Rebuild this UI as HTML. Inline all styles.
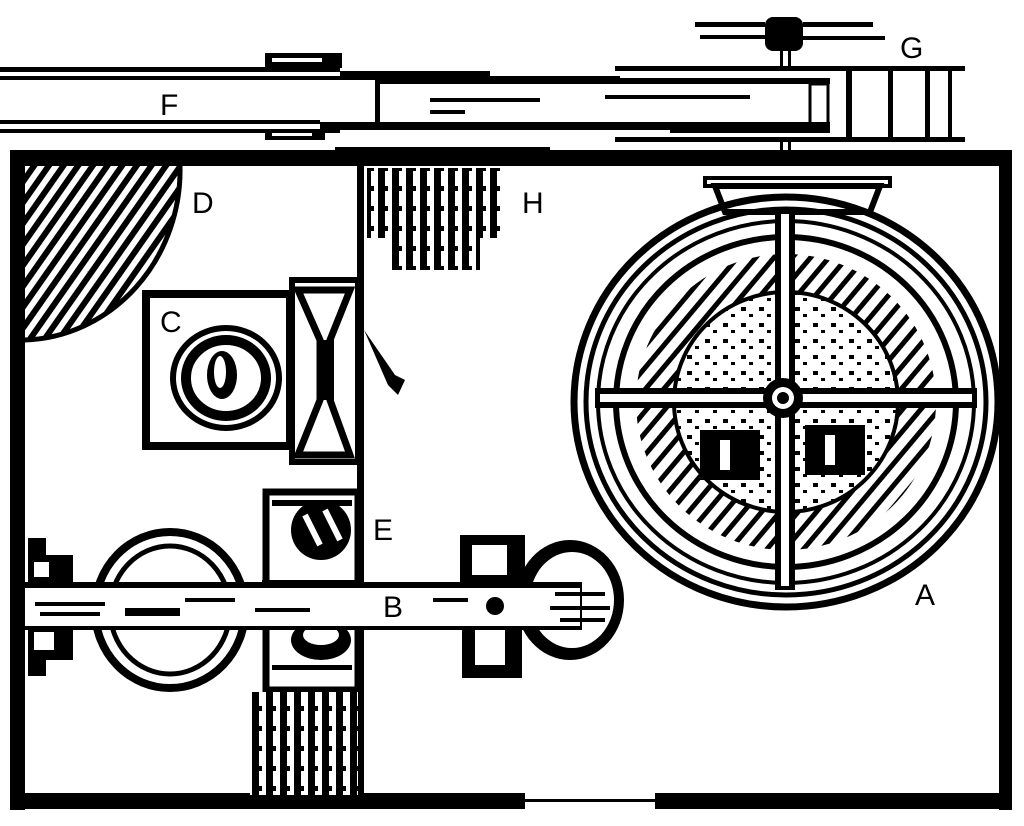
<!DOCTYPE html>
<html><head><meta charset="utf-8"><style>
html,body{margin:0;padding:0;background:#fff;}
svg{display:block}
text{font-family:"Liberation Sans",sans-serif;font-size:30px;fill:#000}
</style></head><body>
<svg width="1024" height="826" viewBox="0 0 1024 826" xmlns="http://www.w3.org/2000/svg">
<defs>
<pattern id="hatch" width="12" height="12" patternUnits="userSpaceOnUse" patternTransform="rotate(35)">
<rect width="12" height="12" fill="#fff"/><rect width="6" height="12" fill="#000"/>
</pattern>
<pattern id="hatch2" width="14" height="14" patternUnits="userSpaceOnUse" patternTransform="rotate(40)">
<rect width="14" height="14" fill="#fff"/><rect width="5" height="14" fill="#000"/>
</pattern>
<pattern id="vhatch" width="14" height="20" patternUnits="userSpaceOnUse">
<rect width="14" height="20" fill="#fff"/><rect width="7" height="20" fill="#000"/><rect x="7" y="6" width="3" height="5" fill="#000"/>
</pattern>
<pattern id="dots" width="18" height="16" patternUnits="userSpaceOnUse">
<rect width="18" height="16" fill="#fff"/><rect x="3" y="3" width="5" height="4" fill="#000"/><rect x="11" y="10" width="4" height="3" fill="#000"/>
</pattern>
</defs>

<!-- top beam F -->
<rect x="0" y="67" width="340" height="5" fill="#000"/>
<rect x="0" y="76" width="340" height="4" fill="#000"/>
<rect x="0" y="120" width="320" height="4" fill="#000"/>
<rect x="0" y="129" width="340" height="4" fill="#000"/>
<rect x="265" y="53" width="77" height="15" fill="#000"/>
<rect x="272" y="58" width="50" height="4" fill="#fff"/>
<rect x="265" y="130" width="60" height="10" fill="#000"/>
<rect x="272" y="133" width="40" height="3" fill="#fff"/>
<rect x="340" y="71" width="150" height="9" fill="#000"/>
<rect x="490" y="76" width="130" height="8" fill="#000"/>
<rect x="375" y="78" width="5" height="50" fill="#000"/>
<rect x="320" y="122" width="510" height="8" fill="#000"/>
<rect x="375" y="78" width="455" height="6" fill="#000"/>
<rect x="810" y="84" width="18" height="44" fill="none" stroke="#000" stroke-width="3"/>
<rect x="430" y="98" width="110" height="4" fill="#000"/>
<rect x="430" y="110" width="35" height="4" fill="#000"/>
<rect x="605" y="95" width="145" height="4" fill="#000"/>
<!-- right housing -->
<rect x="615" y="66" width="350" height="5" fill="#000"/>
<rect x="615" y="137" width="350" height="5" fill="#000"/>
<rect x="846" y="71" width="6" height="66" fill="#000"/>
<rect x="888" y="71" width="5" height="66" fill="#000"/>
<rect x="925" y="71" width="5" height="66" fill="#000"/>
<rect x="948" y="71" width="4" height="66" fill="#000"/>
<rect x="670" y="79" width="160" height="4" fill="#000"/>
<rect x="670" y="129" width="160" height="4" fill="#000"/>
<!-- G -->
<rect x="765" y="17" width="38" height="34" rx="8" fill="#000"/>
<rect x="695" y="22" width="70" height="5" fill="#000"/>
<rect x="700" y="35" width="65" height="4" fill="#000"/>
<rect x="803" y="22" width="70" height="5" fill="#000"/>
<rect x="803" y="36" width="82" height="4" fill="#000"/>
<rect x="780" y="50" width="3" height="17" fill="#000"/><rect x="788" y="50" width="3" height="17" fill="#000"/>
<rect x="780" y="142" width="3" height="10" fill="#000"/><rect x="788" y="142" width="3" height="10" fill="#000"/>
<text x="900" y="58">G</text>
<text x="160" y="115">F</text>
<rect x="335" y="147" width="215" height="6" fill="#000"/>

<!-- frame -->
<rect x="10" y="150" width="1002" height="16" fill="#000"/>
<rect x="10" y="150" width="15" height="660" fill="#000"/>
<rect x="999" y="150" width="13" height="660" fill="#000"/>
<rect x="10" y="793" width="515" height="16" fill="#000"/>
<rect x="655" y="793" width="357" height="16" fill="#000"/>
<rect x="525" y="799" width="130" height="3" fill="#000"/>
<rect x="357" y="160" width="7" height="640" fill="#000"/>

<!-- D -->
<path d="M25 166 L180 166 A160 170 0 0 1 25 340 Z" fill="url(#hatch)"/>
<path d="M180 166 A160 170 0 0 1 25 340" fill="none" stroke="#000" stroke-width="5"/>
<text x="192" y="213">D</text>

<!-- H -->
<rect x="367" y="168" width="135" height="70" fill="url(#vhatch)"/>
<rect x="390" y="235" width="90" height="35" fill="url(#vhatch)"/>
<text x="522" y="213">H</text>

<!-- C -->
<rect x="146" y="294" width="144" height="152" fill="none" stroke="#000" stroke-width="8"/>
<text x="160" y="332">C</text>
<ellipse cx="226" cy="378" rx="53" ry="50" fill="none" stroke="#000" stroke-width="6"/>
<ellipse cx="226" cy="378" rx="40" ry="38" fill="none" stroke="#000" stroke-width="10"/>
<ellipse cx="222" cy="375" rx="15" ry="24" fill="#000"/>
<ellipse cx="220" cy="372" rx="6" ry="16" fill="#fff"/>
<!-- hourglass -->
<rect x="292" y="280" width="66" height="182" fill="none" stroke="#000" stroke-width="6"/>
<path d="M298 290 L350 290 L330 340 L330 400 L350 455 L298 455 L320 400 L320 340 Z" fill="none" stroke="#000" stroke-width="7"/>
<rect x="318" y="340" width="16" height="60" fill="#000"/>
<path d="M364 330 L395 375 L405 380 L398 395 L388 385 Z" fill="#000"/>

<!-- wheel A -->
<rect x="705" y="178" width="185" height="8" fill="none" stroke="#000" stroke-width="4"/>
<path d="M715 186 L880 186 L870 212 L725 212 Z" fill="none" stroke="#000" stroke-width="6"/>
<ellipse cx="786" cy="402" rx="212" ry="205" fill="none" stroke="#000" stroke-width="7"/>
<ellipse cx="786" cy="402" rx="200" ry="193" fill="none" stroke="#000" stroke-width="5"/>
<ellipse cx="786" cy="402" rx="188" ry="181" fill="none" stroke="#000" stroke-width="4"/>
<ellipse cx="786" cy="402" rx="170" ry="165" fill="none" stroke="#000" stroke-width="6"/>
<ellipse cx="786" cy="402" rx="150" ry="148" fill="url(#hatch2)"/>
<ellipse cx="786" cy="402" rx="112" ry="110" fill="url(#dots)" stroke="#000" stroke-width="4"/>
<rect x="700" y="430" width="60" height="50" fill="#000"/>
<rect x="805" y="425" width="60" height="50" fill="#000"/>
<rect x="720" y="440" width="10" height="30" fill="#fff"/>
<rect x="825" y="435" width="10" height="30" fill="#fff"/>
<!-- spokes -->
<rect x="775" y="210" width="20" height="380" fill="#000"/>
<rect x="781" y="214" width="8" height="372" fill="#fff"/>
<rect x="595" y="388" width="382" height="20" fill="#000"/>
<rect x="600" y="394" width="372" height="8" fill="#fff"/>
<circle cx="783" cy="398" r="20" fill="#000"/>
<circle cx="783" cy="398" r="11" fill="#fff"/>
<circle cx="783" cy="398" r="6" fill="#000"/>
<text x="915" y="605">A</text>

<!-- left wheel -->
<ellipse cx="170" cy="610" rx="75" ry="78" fill="none" stroke="#000" stroke-width="8"/>
<ellipse cx="170" cy="610" rx="60" ry="64" fill="none" stroke="#000" stroke-width="5"/>
<rect x="28" y="538" width="18" height="18" fill="#000"/>
<rect x="28" y="555" width="45" height="32" fill="#000"/>
<rect x="34" y="562" width="15" height="15" fill="#fff"/>
<rect x="28" y="625" width="45" height="35" fill="#000"/>
<rect x="34" y="632" width="20" height="18" fill="#fff"/>
<rect x="28" y="658" width="18" height="18" fill="#000"/>

<!-- E box -->
<rect x="266" y="492" width="92" height="198" fill="none" stroke="#000" stroke-width="7"/>
<rect x="272" y="500" width="80" height="6" fill="#000"/>
<circle cx="321" cy="530" r="30" fill="#000"/>
<path d="M305 515 L320 545 M325 510 L340 540" stroke="#fff" stroke-width="6"/>
<ellipse cx="321" cy="640" rx="30" ry="20" fill="#000"/>
<ellipse cx="321" cy="635" rx="18" ry="10" fill="#fff"/>
<rect x="272" y="665" width="80" height="5" fill="#000"/>
<text x="373" y="540">E</text>

<!-- right lobe -->
<rect x="460" y="535" width="65" height="60" fill="#000"/>
<rect x="472" y="545" width="35" height="30" fill="#fff"/>
<rect x="462" y="620" width="60" height="58" fill="#000"/>
<rect x="475" y="630" width="30" height="35" fill="#fff"/>
<ellipse cx="570" cy="600" rx="54" ry="60" fill="#000"/>
<ellipse cx="572" cy="600" rx="42" ry="48" fill="#fff"/>

<!-- B beam -->
<rect x="22" y="582" width="560" height="48" fill="#000"/>
<rect x="25" y="588" width="555" height="38" fill="#fff"/>
<rect x="262" y="580" width="100" height="8" fill="#000"/>
<rect x="35" y="602" width="70" height="4" fill="#000"/><rect x="40" y="612" width="60" height="4" fill="#000"/>
<rect x="125" y="608" width="55" height="8" fill="#000"/><rect x="185" y="598" width="50" height="4" fill="#000"/>
<rect x="255" y="608" width="55" height="4" fill="#000"/>
<rect x="433" y="598" width="35" height="4" fill="#000"/>
<circle cx="495" cy="606" r="9" fill="#000"/>
<rect x="555" y="592" width="50" height="4" fill="#000"/>
<rect x="550" y="606" width="60" height="4" fill="#000"/>
<rect x="560" y="618" width="45" height="4" fill="#000"/>
<text x="383" y="617">B</text>

<!-- bottom hatched block -->
<rect x="250" y="692" width="108" height="103" fill="url(#vhatch)"/>
</svg>
</body></html>
